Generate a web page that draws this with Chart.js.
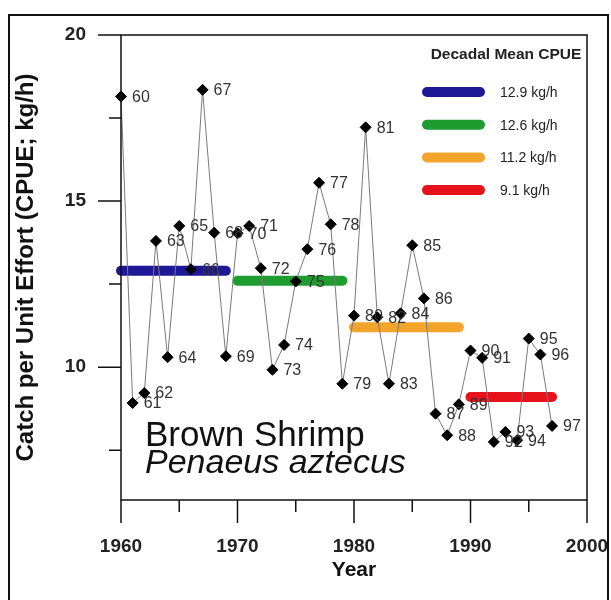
<!DOCTYPE html>
<html>
<head>
<meta charset="utf-8">
<script src="https://cdn.jsdelivr.net/npm/chart.js@4/dist/chart.umd.min.js"></script>
<style>
  body { margin: 0; background: #fff; }
  #wrap { position: relative; width: 611px; height: 600px; overflow: hidden; }
  #frame { position: absolute; left: 8px; top: 14px; width: 597px; height: 620px; border: 2px solid #111; }
  canvas { position: absolute; left: 0; top: 0; }
</style>
</head>
<body>
<div id="wrap">
  <div id="frame"></div>
  <canvas id="cpueChart" width="611" height="600"></canvas>
</div>
<script>
const YEARS = [1960,1961,1962,1963,1964,1965,1966,1967,1968,1969,
               1970,1971,1972,1973,1974,1975,1976,1977,1978,1979,
               1980,1981,1982,1983,1984,1985,1986,1987,1988,1989,
               1990,1991,1992,1993,1994,1995,1996,1997];
const CPUE = [18.15, 8.92, 9.22, 13.8, 10.3, 14.25, 12.95, 18.35, 14.05, 10.33,
              14.03, 14.25, 12.98, 9.92, 10.67, 12.58, 13.55, 15.55, 14.3, 9.5,
              11.55, 17.22, 11.5, 9.5, 11.62, 13.67, 12.07, 8.6, 7.95, 8.88,
              10.5, 10.28, 7.75, 8.05, 7.8, 10.86, 10.38, 8.23];

const DECADE_START = [1960, 1970, 1980, 1990];
const DECADE_END = [1969, 1979, 1989, 1997];
const DECADE_MEAN = [12.9, 12.6, 11.2, 9.1];
const DECADE_LABELS = ["12.9 kg/h", "12.6 kg/h", "11.2 kg/h", "9.1 kg/h"];
const DECADE_COLORS = ["#1f1896", "#1f9c30", "#f2a52a", "#e6131d"];

const X_TICKS = [1960, 1970, 1980, 1990, 2000];
const X_MINOR = [1965, 1975, 1985, 1995];
const Y_TICKS = [10, 15, 20];
const Y_MINOR = [7.5, 12.5, 17.5];

// ====== Datasets ======
const mainSet = {
  label: "CPUE",
  data: YEARS.map((y, i) => ({ x: y, y: CPUE[i] })),
  borderColor: "#7a7a7a",
  borderWidth: 1,
  pointStyle: "rectRot",
  pointRadius: 5.5,
  pointBackgroundColor: "#000",
  pointBorderColor: "#000",
  pointBorderWidth: 1,
  clip: false,
  order: 0
};

const decadeSets = DECADE_MEAN.map((m, i) => ({
  label: DECADE_LABELS[i],
  data: [{ x: DECADE_START[i], y: m }, { x: DECADE_END[i], y: m }],
  borderColor: DECADE_COLORS[i],
  borderWidth: 10,
  borderCapStyle: "round",
  pointRadius: 0,
  clip: false,
  order: 1
}));

// ====== Decorations: box, ticks, point labels, legend, species text ======
const decor = {
  id: "decor",
  afterDraw(chart) {
    const { ctx, chartArea: a } = chart;
    const xs = chart.scales.x, ys = chart.scales.y;
    ctx.save();
    ctx.strokeStyle = "#111";
    ctx.lineWidth = 1.5;
    ctx.strokeRect(a.left, a.top, a.right - a.left, a.bottom - a.top);

    ctx.beginPath();
    X_TICKS.forEach(v => { const p = xs.getPixelForValue(v); ctx.moveTo(p, a.bottom); ctx.lineTo(p, a.bottom + 23); });
    X_MINOR.forEach(v => { const p = xs.getPixelForValue(v); ctx.moveTo(p, a.bottom); ctx.lineTo(p, a.bottom + 12); });
    Y_TICKS.forEach(v => { const p = ys.getPixelForValue(v); ctx.moveTo(a.left, p); ctx.lineTo(a.left - 23, p); });
    Y_MINOR.forEach(v => { const p = ys.getPixelForValue(v); ctx.moveTo(a.left, p); ctx.lineTo(a.left - 12, p); });
    ctx.stroke();

    // year labels beside points
    const meta = chart.getDatasetMeta(0);
    ctx.fillStyle = "#333";
    ctx.font = "16px 'Liberation Sans', Arial, sans-serif";
    ctx.textAlign = "left";
    ctx.textBaseline = "middle";
    meta.data.forEach((pt, i) => {
      ctx.fillText(String(YEARS[i]).slice(2), pt.x + 11, pt.y + 1);
    });

    // legend
    ctx.fillStyle = "#222";
    ctx.font = "bold 15.5px 'Liberation Sans', Arial, sans-serif";
    ctx.textAlign = "center";
    ctx.fillText("Decadal Mean CPUE", 506, 55);
    ctx.font = "14px 'Liberation Sans', Arial, sans-serif";
    ctx.textAlign = "left";
    ctx.lineCap = "round";
    ctx.lineWidth = 10;
    DECADE_LABELS.forEach((lab, i) => {
      const y = 92 + i * 32.7;
      ctx.strokeStyle = DECADE_COLORS[i];
      ctx.beginPath();
      ctx.moveTo(427, y);
      ctx.lineTo(480, y);
      ctx.stroke();
      ctx.fillText(lab, 500, y + 1);
    });

    // species text
    ctx.fillStyle = "#111";
    ctx.textBaseline = "alphabetic";
    ctx.font = "35px 'Liberation Sans', Arial, sans-serif";
    ctx.fillText("Brown Shrimp", 145, 446);
    ctx.font = "italic 34px 'Liberation Sans', Arial, sans-serif";
    ctx.fillText("Penaeus aztecus", 145, 473);
    ctx.restore();
  }
};

// ====== Chart Setup ======
const ctx = document.getElementById("cpueChart").getContext("2d");
const chart = new Chart(ctx, {
  type: "line",
  data: { datasets: [mainSet, ...decadeSets] },
  options: {
    responsive: false,
    animation: false,
    layout: { padding: { top: 35, right: 24, left: 0, bottom: 0 } },
    plugins: { legend: { display: false }, tooltip: { enabled: false } },
    scales: {
      x: {
        type: "linear",
        min: 1960,
        max: 2000,
        afterFit: s => { s.height = 100; s.paddingLeft = 0; s.paddingRight = 0; },
        afterBuildTicks: s => { s.ticks = X_TICKS.map(v => ({ value: v })); },
        grid: { display: false, drawTicks: false },
        border: { display: false },
        ticks: {
          padding: 35,
          color: "#222",
          font: { family: "'Liberation Sans', Arial, sans-serif", size: 19, weight: "bold" },
          callback: v => String(v)
        },
        title: {
          display: true,
          text: "Year",
          color: "#111",
          font: { family: "'Liberation Sans', Arial, sans-serif", size: 21, weight: "bold" },
          padding: { top: 0, bottom: 17 }
        }
      },
      y: {
        min: 6,
        max: 20,
        afterFit: s => { s.width = 121; s.paddingTop = 0; s.paddingBottom = 0; },
        afterBuildTicks: s => { s.ticks = Y_TICKS.map(v => ({ value: v })); },
        grid: { display: false, drawTicks: false },
        border: { display: false },
        ticks: {
          padding: 35,
          color: "#222",
          font: { family: "'Liberation Sans', Arial, sans-serif", size: 19, weight: "bold" }
        },
        title: {
          display: true,
          text: "Catch per Unit Effort (CPUE; kg/h)",
          color: "#111",
          font: { family: "'Liberation Sans', Arial, sans-serif", size: 24, weight: "bold" },
          padding: { top: 12, bottom: 0 }
        }
      }
    }
  },
  plugins: [decor]
});
</script>
</body>
</html>
